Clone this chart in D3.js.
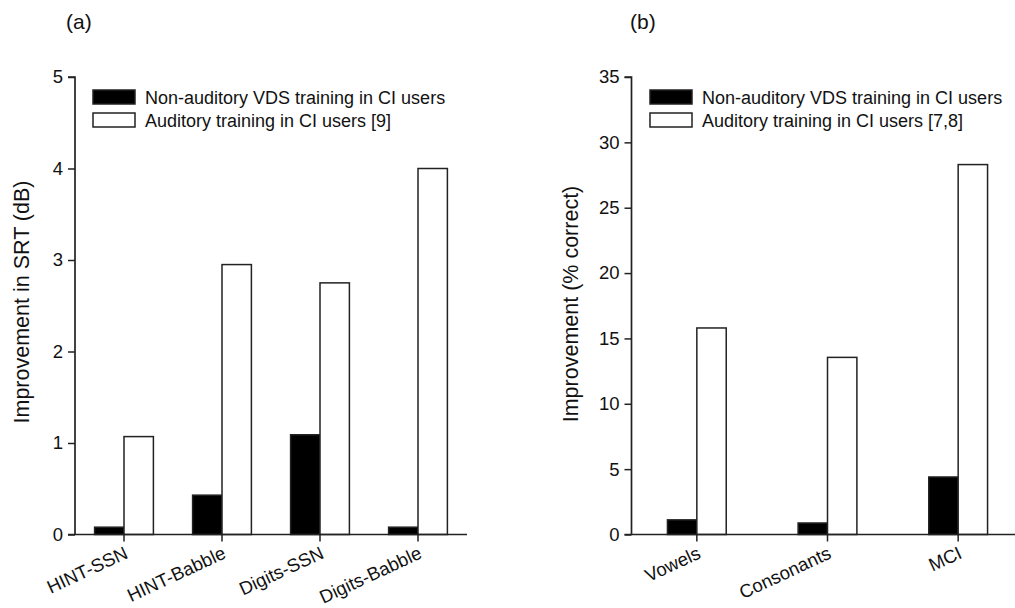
<!DOCTYPE html>
<html><head><meta charset="utf-8">
<script src="https://cdn.jsdelivr.net/npm/d3@7"></script>
<style>body{margin:0;background:#fff}svg{display:block}text{font-family:"Liberation Sans",Arial,sans-serif;fill:#111}</style>
</head><body>
<script>
const catsA = ["HINT-SSN","HINT-Babble","Digits-SSN","Digits-Babble"];
const visualA = [0.08,0.43,1.09,0.08];
const auditoryA = [1.07,2.95,2.75,4.0];
const ticksA = [0,1,2,3,4,5];
const seriesA = ["Non-auditory VDS training in CI users","Auditory training in CI users [9]"];

const catsB = ["Vowels","Consonants","MCI"];
const visualB = [1.12,0.88,4.4];
const auditoryB = [15.8,13.55,28.3];
const ticksB = [0,5,10,15,20,25,30,35];
const seriesB = ["Non-auditory VDS training in CI users","Auditory training in CI users [7,8]"];

const W=1015,H=608;
const svg=d3.select("body").append("svg").attr("width",W).attr("height",H);
const ink="#222";

function panel(o){
  const g=svg.append("g");
  const x=d3.scaleBand().domain(o.cats).range([o.x0,o.x1]);
  const y=d3.scaleLinear().domain([0,o.ymax]).range([534.5,77]);
  const bw=x.bandwidth()*o.barFrac;
  const data=o.cats.map((c,i)=>({c,v:o.vis[i],a:o.aud[i]}));
  g.selectAll(".bv").data(data).join("rect")
    .attr("x",d=>x(d.c)+x.bandwidth()/2-bw).attr("width",bw)
    .attr("y",d=>y(d.v)).attr("height",d=>y(0)-y(d.v))
    .attr("fill","#000").attr("stroke",ink).attr("stroke-width",1.5);
  g.selectAll(".ba").data(data).join("rect")
    .attr("x",d=>x(d.c)+x.bandwidth()/2).attr("width",bw)
    .attr("y",d=>y(d.a)).attr("height",d=>y(0)-y(d.a))
    .attr("fill","#fff").attr("stroke",ink).attr("stroke-width",1.5);
  const ya=g.append("g").attr("transform",`translate(${o.x0},0)`)
    .call(d3.axisLeft(y).tickValues(o.ticks).tickSize(7).tickPadding(5).tickFormat(d3.format("d")));
  ya.select(".domain").attr("d",`M-7,${y(o.ymax)}H0V${y(0)}`).attr("stroke",ink).attr("stroke-width",1.7);
  ya.selectAll(".tick line").attr("stroke",ink).attr("stroke-width",1.5);
  ya.selectAll(".tick text").style("font-size","18.5px").attr("fill","#111");
  const xa=g.append("g").attr("transform",`translate(0,${y(0)})`)
    .call(d3.axisBottom(x).tickSize(7).tickPadding(4));
  xa.select(".domain").attr("d",`M${o.x0-7},0H${Math.min(o.x1,o.xEnd)}`).attr("stroke",ink).attr("stroke-width",1.7);
  xa.selectAll(".tick line").attr("stroke",ink).attr("stroke-width",1.5);
  xa.selectAll(".tick text").style("font-size","18.5px").attr("fill","#111")
    .attr("text-anchor","end").attr("dy","0").attr("y",0)
    .attr("transform","translate(5,23) rotate(-25)");
  g.append("text").attr("transform",`translate(${o.labX},${o.labY}) rotate(-90)`)
    .attr("text-anchor","middle").style("font-size","21.5px").text(o.ylabel);
  g.append("text").attr("x",o.tagX).attr("y",29).style("font-size","21px").text(o.tag);
  const lg=g.append("g");
  o.series.forEach((s,i)=>{
    lg.append("rect").attr("x",o.legX).attr("y",90+i*23).attr("width",42).attr("height",14)
      .attr("fill",i?"#fff":"#000").attr("stroke",ink).attr("stroke-width",1.5);
    lg.append("text").attr("x",o.legX+52).attr("y",104+i*23).style("font-size","18px").text(s);
  });
}

panel({cats:catsA,vis:visualA,aud:auditoryA,ticks:ticksA,ymax:5,x0:75,x1:467,xEnd:467,barFrac:0.3,
  ylabel:"Improvement in SRT (dB)",labX:29,labY:302,tag:"(a)",tagX:66,legX:93,series:seriesA});
panel({cats:catsB,vis:visualB,aud:auditoryB,ticks:ticksB,ymax:35,x0:631.5,x1:1023.5,xEnd:1015,barFrac:0.3*98/130.7,
  ylabel:"Improvement (% correct)",labX:578,labY:304,tag:"(b)",tagX:630,legX:650,series:seriesB});
</script>
</body></html>
